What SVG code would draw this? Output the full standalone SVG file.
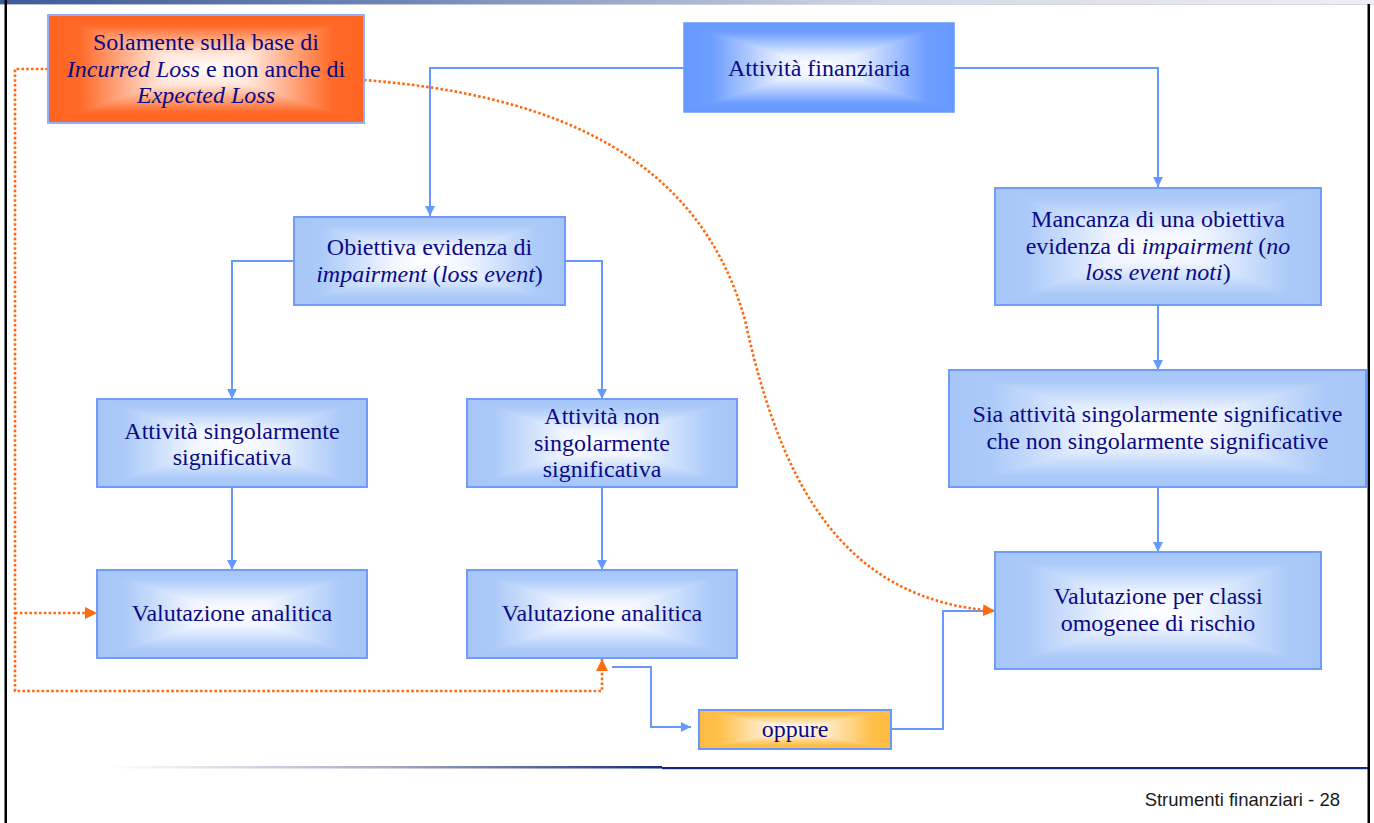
<svg xmlns="http://www.w3.org/2000/svg" width="1374" height="823" viewBox="0 0 1374 823">
<style>
.t{font-family:"Liberation Serif","Times New Roman",serif;font-size:24px;fill:#0A0A86;text-anchor:middle}
.i{font-style:italic}
.bd{fill:none;stroke:#6E9CF8;stroke-width:2}
.bl{fill:none;stroke:#6699FF;stroke-width:2}
.or{fill:none;stroke:#FF6A10;stroke-width:2.6;stroke-dasharray:2.6 2.2}
.ft{font-family:"Liberation Sans",Arial,sans-serif;font-size:18.5px;fill:#1A1A1A;text-anchor:end}
</style>
<defs>
<linearGradient id="lbV" x1="0" y1="0" x2="0" y2="100" gradientUnits="userSpaceOnUse"><stop offset="0" stop-color="#A6C6F8"/><stop offset="0.1" stop-color="#ABCAF9"/><stop offset="0.36" stop-color="#F0F5FF"/><stop offset="0.5" stop-color="#FFFFFF"/><stop offset="0.64" stop-color="#F0F5FF"/><stop offset="0.9" stop-color="#ABCAF9"/><stop offset="1" stop-color="#A6C6F8"/></linearGradient>
<linearGradient id="lbH" href="#lbV" x1="0" y1="0" x2="100" y2="0"/>
<linearGradient id="sbV" x1="0" y1="0" x2="0" y2="100" gradientUnits="userSpaceOnUse"><stop offset="0" stop-color="#6699FF"/><stop offset="0.1" stop-color="#6C9DFF"/><stop offset="0.36" stop-color="#E6EEFF"/><stop offset="0.5" stop-color="#FFFFFF"/><stop offset="0.64" stop-color="#E6EEFF"/><stop offset="0.9" stop-color="#6C9DFF"/><stop offset="1" stop-color="#6699FF"/></linearGradient>
<linearGradient id="sbH" href="#sbV" x1="0" y1="0" x2="100" y2="0"/>
<linearGradient id="orV" x1="0" y1="0" x2="0" y2="100" gradientUnits="userSpaceOnUse"><stop offset="0" stop-color="#FF6420"/><stop offset="0.1" stop-color="#FF6A28"/><stop offset="0.36" stop-color="#FFE6DA"/><stop offset="0.5" stop-color="#FFFFFF"/><stop offset="0.64" stop-color="#FFE6DA"/><stop offset="0.9" stop-color="#FF6A28"/><stop offset="1" stop-color="#FF6420"/></linearGradient>
<linearGradient id="orH" href="#orV" x1="0" y1="0" x2="100" y2="0"/>
<linearGradient id="amV" x1="0" y1="0" x2="0" y2="100" gradientUnits="userSpaceOnUse"><stop offset="0" stop-color="#FFBB40"/><stop offset="0.1" stop-color="#FFBF48"/><stop offset="0.36" stop-color="#FFF0D6"/><stop offset="0.5" stop-color="#FFFAF2"/><stop offset="0.64" stop-color="#FFF0D6"/><stop offset="0.9" stop-color="#FFBF48"/><stop offset="1" stop-color="#FFBB40"/></linearGradient>
<linearGradient id="amH" href="#amV" x1="0" y1="0" x2="100" y2="0"/>
<symbol id="gLight" viewBox="0 0 100 100" preserveAspectRatio="none">
<g shape-rendering="crispEdges"><polygon points="0,0 100,0 50,50" fill="url(#lbV)"/><polygon points="0,100 100,100 50,50" fill="url(#lbV)"/><polygon points="0,0 0,100 50,50" fill="url(#lbH)"/><polygon points="100,0 100,100 50,50" fill="url(#lbH)"/></g>
</symbol>
<symbol id="gStrong" viewBox="0 0 100 100" preserveAspectRatio="none">
<g shape-rendering="crispEdges"><polygon points="0,0 100,0 50,50" fill="url(#sbV)"/><polygon points="0,100 100,100 50,50" fill="url(#sbV)"/><polygon points="0,0 0,100 50,50" fill="url(#sbH)"/><polygon points="100,0 100,100 50,50" fill="url(#sbH)"/></g>
</symbol>
<symbol id="gOrange" viewBox="0 0 100 100" preserveAspectRatio="none">
<g shape-rendering="crispEdges"><polygon points="0,0 100,0 50,50" fill="url(#orV)"/><polygon points="0,100 100,100 50,50" fill="url(#orV)"/><polygon points="0,0 0,100 50,50" fill="url(#orH)"/><polygon points="100,0 100,100 50,50" fill="url(#orH)"/></g>
</symbol>
<symbol id="gAmber" viewBox="0 0 100 100" preserveAspectRatio="none">
<g shape-rendering="crispEdges"><polygon points="0,0 100,0 50,50" fill="url(#amV)"/><polygon points="0,100 100,100 50,50" fill="url(#amV)"/><polygon points="0,0 0,100 50,50" fill="url(#amH)"/><polygon points="100,0 100,100 50,50" fill="url(#amH)"/></g>
</symbol>
<marker id="ab" markerUnits="userSpaceOnUse" markerWidth="11" markerHeight="11" refX="10" refY="5" orient="auto"><path d="M0,0 L10,5 L0,10 z" fill="#6699FF"/></marker>
<marker id="ao" markerUnits="userSpaceOnUse" markerWidth="13" markerHeight="13" refX="12" refY="6" orient="auto"><path d="M0,0 L12,6 L0,12 z" fill="#FF6A10"/></marker>
<linearGradient id="topbar" x1="0" y1="0" x2="1" y2="0"><stop offset="0" stop-color="#3E5B99"/><stop offset="0.3" stop-color="#7088B8"/><stop offset="0.65" stop-color="#D4D9E6"/><stop offset="1" stop-color="#EEEEF2"/></linearGradient>
<linearGradient id="footg" x1="110" y1="0" x2="662" y2="0" gradientUnits="userSpaceOnUse"><stop offset="0" stop-color="#FFFFFF"/><stop offset="0.5" stop-color="#A8ACC4"/><stop offset="1" stop-color="#1A2B80"/></linearGradient>
</defs>
<rect width="1374" height="823" fill="#FFFFFF"/>
<g id="frame">
<rect x="0" y="0" width="1374" height="4.5" fill="url(#topbar)"/>
<rect x="0" y="4" width="1374" height="1" fill="#C8CAD4" opacity="0.6"/>
<rect x="4.5" y="0" width="2.5" height="823" fill="#000000"/>
<rect x="1367.5" y="4" width="2.5" height="819" fill="#000000"/>
<rect x="110" y="766" width="552" height="2.5" fill="url(#footg)"/>
<rect x="662" y="767" width="706" height="2.2" fill="#13297E"/>
<text class="ft" x="1340" y="806">Strumenti finanziari - 28</text>
</g>
<g id="connectors">
<path class="bl" d="M684,68 H430 V216" marker-end="url(#ab)"/>
<path class="bl" d="M954,68 H1158 V187" marker-end="url(#ab)"/>
<path class="bl" d="M294,261 H232 V399" marker-end="url(#ab)"/>
<path class="bl" d="M565,261 H602 V399" marker-end="url(#ab)"/>
<path class="bl" d="M232,487 V570" marker-end="url(#ab)"/>
<path class="bl" d="M602,487 V570" marker-end="url(#ab)"/>
<path class="bl" d="M1158,305 V370" marker-end="url(#ab)"/>
<path class="bl" d="M1158,487 V552" marker-end="url(#ab)"/>
<path class="bl" d="M612,667 H651 V727 H691" marker-end="url(#ab)"/>
<path class="bl" d="M891,729 H943 V611 H985"/>
<path class="or" d="M48,69 H15 V691 H602 V659" marker-end="url(#ao)"/>
<path class="or" d="M15,613 H97" marker-end="url(#ao)"/>
<path class="or" d="M364,80 C560,95 700,160 745,320 C780,480 840,600 995,611" marker-end="url(#ao)"/>
</g>
<g id="n_solamente">
<use href="#gOrange" x="48" y="15" width="316" height="108"/>
<rect x="48" y="15" width="316" height="108" fill="none" stroke="#8EB0FF" stroke-width="2"/>
<text class="t" x="206" y="50">Solamente sulla base di</text>
<text class="t" x="206" y="77"><tspan class="i">Incurred Loss</tspan> e non anche di</text>
<text class="t" x="206" y="103"><tspan class="i">Expected Loss</tspan></text>
</g>
<g id="n_attivita">
<use href="#gStrong" x="684" y="23" width="270" height="89"/>
<rect x="684" y="23" width="270" height="89" fill="none" stroke="#6699FF" stroke-width="1.5"/>
<text class="t" x="819" y="76">Attività finanziaria</text>
</g>
<g id="n_obiettiva">
<use href="#gLight" x="294" y="217" width="271" height="88"/>
<rect class="bd" x="294" y="217" width="271" height="88"/>
<text class="t" x="429.5" y="255">Obiettiva evidenza di</text>
<text class="t" x="429.5" y="282"><tspan class="i">impairment</tspan> (<tspan class="i">loss event</tspan>)</text>
</g>
<g id="n_singolarmente">
<use href="#gLight" x="97" y="399" width="270" height="88"/>
<rect class="bd" x="97" y="399" width="270" height="88"/>
<text class="t" x="232" y="439">Attività singolarmente</text>
<text class="t" x="232" y="465">significativa</text>
</g>
<g id="n_non_singolarmente">
<use href="#gLight" x="467" y="399" width="270" height="88"/>
<rect class="bd" x="467" y="399" width="270" height="88"/>
<text class="t" x="602" y="424">Attività non</text>
<text class="t" x="602" y="451">singolarmente</text>
<text class="t" x="602" y="477">significativa</text>
</g>
<g id="n_valutazione1">
<use href="#gLight" x="97" y="570" width="270" height="88"/>
<rect class="bd" x="97" y="570" width="270" height="88"/>
<text class="t" x="232" y="621">Valutazione analitica</text>
</g>
<g id="n_valutazione2">
<use href="#gLight" x="467" y="570" width="270" height="88"/>
<rect class="bd" x="467" y="570" width="270" height="88"/>
<text class="t" x="602" y="621">Valutazione analitica</text>
</g>
<g id="n_mancanza">
<use href="#gLight" x="995" y="188" width="326" height="117"/>
<rect class="bd" x="995" y="188" width="326" height="117"/>
<text class="t" x="1158" y="227">Mancanza di una obiettiva</text>
<text class="t" x="1158" y="254">evidenza di <tspan class="i">impairment</tspan> (<tspan class="i">no</tspan></text>
<text class="t" x="1158" y="280"><tspan class="i">loss event noti</tspan>)</text>
</g>
<g id="n_sia">
<use href="#gLight" x="949" y="370" width="417" height="117"/>
<rect class="bd" x="949" y="370" width="417" height="117"/>
<text class="t" x="1157.5" y="422">Sia attività singolarmente significative</text>
<text class="t" x="1157.5" y="449">che non singolarmente significative</text>
</g>
<g id="n_classi">
<use href="#gLight" x="995" y="552" width="326" height="117"/>
<rect class="bd" x="995" y="552" width="326" height="117"/>
<text class="t" x="1158" y="604">Valutazione per classi</text>
<text class="t" x="1158" y="631">omogenee di rischio</text>
</g>
<g id="n_oppure">
<use href="#gAmber" x="699" y="710" width="192" height="39"/>
<rect x="699" y="710" width="192" height="39" fill="none" stroke="#6699FF" stroke-width="2"/>
<text class="t" x="795" y="737">oppure</text>
</g>
</svg>
